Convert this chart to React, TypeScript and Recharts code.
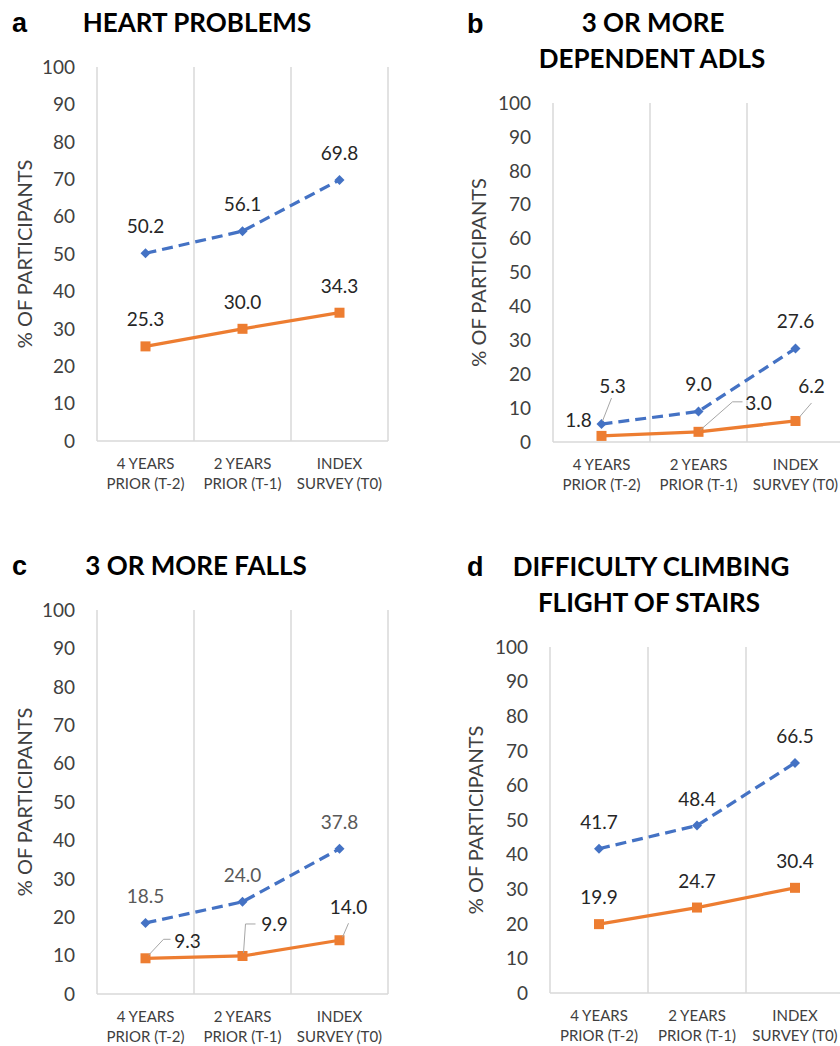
import React from 'react';
import { LineChart, Line, XAxis, YAxis, CartesianGrid, LabelList } from 'recharts';

// ---------- data ----------
const categories = ['4 YEARS|PRIOR (T-2)', '2 YEARS|PRIOR (T-1)', 'INDEX|SURVEY (T0)'];
const yTicks = [0, 10, 20, 30, 40, 50, 60, 70, 80, 90, 100];

const heartBlue = [50.2, 56.1, 69.8];
const heartOrange = [25.3, 30.0, 34.3];
const adlBlue = [5.3, 9.0, 27.6];
const adlOrange = [1.8, 3.0, 6.2];
const fallsBlue = [18.5, 24.0, 37.8];
const fallsOrange = [9.3, 9.9, 14.0];
const stairsBlue = [41.7, 48.4, 66.5];
const stairsOrange = [19.9, 24.7, 30.4];

// ---------- styles / layout ----------
const FONT = "Lato, 'Open Sans', sans-serif";
const BLUE = '#4472C4';
const ORANGE = '#ED7D31';
const GRID = '#d9d9d9';
const TEXT = '#404040';
const LEADER = '#a6a6a6';
const Y_AXIS_W = 60;

type LabelCfg = { dx: number; dy: number; leader?: number[][] };
const STD: LabelCfg = { dx: 0, dy: -20 };
const std3: LabelCfg[] = [STD, STD, STD];

const adlBlueLabels: LabelCfg[] = [
  { dx: 11, dy: -31, leader: [[10, -26], [1, -3]] },
  STD,
  STD,
];
const adlOrangeLabels: LabelCfg[] = [
  { dx: -23, dy: -9 },
  { dx: 60, dy: -22, leader: [[44, -30], [34, -30], [2, -2]] },
  { dx: 16, dy: -28, leader: [[16, -18], [4, -4]] },
];
const fallsOrangeLabels: LabelCfg[] = [
  { dx: 42, dy: -10, leader: [[3, -3], [18, -19], [25, -19]] },
  { dx: 32, dy: -25, leader: [[1, -3], [3, -32], [13, -32]] },
  { dx: 9, dy: -26, leader: [[9, -17], [3, -3]] },
];

type Panel = {
  key: string;
  left: number;
  top: number;
  width: number;
  height: number;
  margin: { top: number; right: number; bottom: number; left: number };
  yLabelX: number;
  blue: number[];
  orange: number[];
  blueLabels: LabelCfg[];
  orangeLabels: LabelCfg[];
  blueLabelColor: string;
};

const panels: Panel[] = [
  {
    key: 'a', left: 0, top: 0, width: 420, height: 520,
    margin: { top: 67, right: 32, bottom: 29, left: 37 }, yLabelX: 24,
    blue: heartBlue, orange: heartOrange, blueLabels: std3, orangeLabels: std3, blueLabelColor: '#262626',
  },
  {
    key: 'b', left: 420, top: 0, width: 440, height: 520,
    margin: { top: 103, right: 16, bottom: 28, left: 73 }, yLabelX: 58,
    blue: adlBlue, orange: adlOrange, blueLabels: adlBlueLabels, orangeLabels: adlOrangeLabels, blueLabelColor: '#262626',
  },
  {
    key: 'c', left: 0, top: 520, width: 420, height: 526,
    margin: { top: 90, right: 32, bottom: 2, left: 37 }, yLabelX: 24,
    blue: fallsBlue, orange: fallsOrange, blueLabels: std3, orangeLabels: fallsOrangeLabels, blueLabelColor: '#595959',
  },
  {
    key: 'd', left: 420, top: 520, width: 440, height: 526,
    margin: { top: 127, right: 16, bottom: 3, left: 70 }, yLabelX: 55,
    blue: stairsBlue, orange: stairsOrange, blueLabels: std3, orangeLabels: std3, blueLabelColor: '#262626',
  },
];

// ---------- components ----------
const XTick = (props: any) => {
  const { x, y, payload } = props;
  const lines = String(payload.value).split('|');
  return (
    <g>
      <text x={x} y={y + 28} textAnchor="middle" fill={TEXT} fontSize={15} fontFamily={FONT}>{lines[0]}</text>
      <text x={x} y={y + 48} textAnchor="middle" fill={TEXT} fontSize={15} fontFamily={FONT}>{lines[1]}</text>
    </g>
  );
};

const makeLabel = (cfgs: LabelCfg[], color: string) => (props: any) => {
  const { x, y, value, index } = props;
  if (x == null || y == null) return null;
  const cfg = cfgs[index] || STD;
  const pts = cfg.leader ? cfg.leader.map((p) => `${x + p[0]},${y + p[1]}`).join(' ') : null;
  return (
    <g key={`lbl-${index}`}>
      {pts && <polyline points={pts} fill="none" stroke={LEADER} strokeWidth={1} />}
      <text x={x + cfg.dx} y={y + cfg.dy} textAnchor="middle" fill={color} fontSize={19} fontFamily={FONT}>
        {Number(value).toFixed(1)}
      </text>
    </g>
  );
};

const diamondDot = (props: any) => {
  const { cx, cy, index } = props;
  if (cx == null || cy == null) return <g key={`dd-${index}`} />;
  const r = 5;
  return <path key={`dd-${index}`} d={`M${cx},${cy - r}L${cx + r},${cy}L${cx},${cy + r}L${cx - r},${cy}Z`} fill={BLUE} />;
};

const squareDot = (props: any) => {
  const { cx, cy, index } = props;
  if (cx == null || cy == null) return <g key={`sd-${index}`} />;
  const s = 10;
  return <rect key={`sd-${index}`} x={cx - s / 2} y={cy - s / 2} width={s} height={s} fill={ORANGE} />;
};

const ChartPanel = ({ p }: { p: Panel }) => {
  const data = categories.map((c, i) => ({ cat: c, blue: p.blue[i], orange: p.orange[i] }));
  const plotW = p.width - p.margin.left - Y_AXIS_W - p.margin.right;
  const pad = plotW / (categories.length * 2);
  const yLabel = (lp: any) => {
    const vb = lp.viewBox || { y: 0, height: 0 };
    const cy = vb.y + vb.height / 2;
    return (
      <text
        x={p.yLabelX}
        y={cy}
        transform={`rotate(-90, ${p.yLabelX}, ${cy})`}
        textAnchor="middle"
        dominantBaseline="central"
        fill={TEXT}
        fontSize={20}
        fontFamily={FONT}
      >
        % OF PARTICIPANTS
      </text>
    );
  };
  return (
    <div style={{ position: 'absolute', left: p.left, top: p.top, width: p.width, height: p.height }}>
      <LineChart width={p.width} height={p.height} data={data} margin={p.margin}>
        <CartesianGrid
          horizontal={false}
          stroke={GRID}
          strokeWidth={1.5}
          verticalCoordinatesGenerator={({ offset }: any) =>
            [0, 1, 2, 3].map((i) => offset.left + (offset.width * i) / 3)
          }
        />
        <XAxis
          dataKey="cat"
          interval={0}
          height={50}
          padding={{ left: pad, right: pad }}
          axisLine={{ stroke: GRID, strokeWidth: 1.5 }}
          tickLine={false}
          tickSize={0}
          tickMargin={0}
          tick={<XTick />}
        />
        <YAxis
          domain={[0, 100]}
          ticks={yTicks}
          interval={0}
          width={Y_AXIS_W}
          axisLine={false}
          tickLine={false}
          tickSize={0}
          tickMargin={22}
          tick={{ fill: TEXT, fontSize: 19, fontFamily: FONT }}
          label={{ content: yLabel } as any}
        />
        <Line
          dataKey="blue"
          stroke={BLUE}
          strokeWidth={3.25}
          strokeDasharray="11 6"
          dot={diamondDot}
          activeDot={false}
          isAnimationActive={false}
        >
          <LabelList dataKey="blue" content={makeLabel(p.blueLabels, p.blueLabelColor)} />
        </Line>
        <Line
          dataKey="orange"
          stroke={ORANGE}
          strokeWidth={3.25}
          dot={squareDot}
          activeDot={false}
          isAnimationActive={false}
        >
          <LabelList dataKey="orange" content={makeLabel(p.orangeLabels, '#262626')} />
        </Line>
      </LineChart>
    </div>
  );
};

const TITLE_FONT = FONT;
const LETTER_FONT = "'Liberation Sans', Arial, sans-serif";

export default function App() {
  return (
    <div style={{ position: 'absolute', left: 0, top: 0, width: 840, height: 1046, overflow: 'hidden', background: '#fff' }}>
      {panels.map((p) => (
        <ChartPanel key={p.key} p={p} />
      ))}
      <svg width={840} height={1046} style={{ position: 'absolute', left: 0, top: 0, pointerEvents: 'none' }}>
        <g fontFamily={LETTER_FONT} fontWeight={700} fontSize={27} fill="#000">
          <text x={12} y={32}>a</text>
          <text x={467} y={33}>b</text>
          <text x={12} y={575}>c</text>
          <text x={467} y={576}>d</text>
        </g>
        <g fontFamily={TITLE_FONT} fontWeight={700} fontSize={26} fill="#000" textAnchor="middle">
          <text x={197} y={32}>HEART PROBLEMS</text>
          <text x={653} y={32}>3 OR MORE</text>
          <text x={652} y={68}>DEPENDENT ADLS</text>
          <text x={196} y={575}>3 OR MORE FALLS</text>
          <text x={651} y={576}>DIFFICULTY CLIMBING</text>
          <text x={649} y={612}>FLIGHT OF STAIRS</text>
        </g>
      </svg>
    </div>
  );
}
